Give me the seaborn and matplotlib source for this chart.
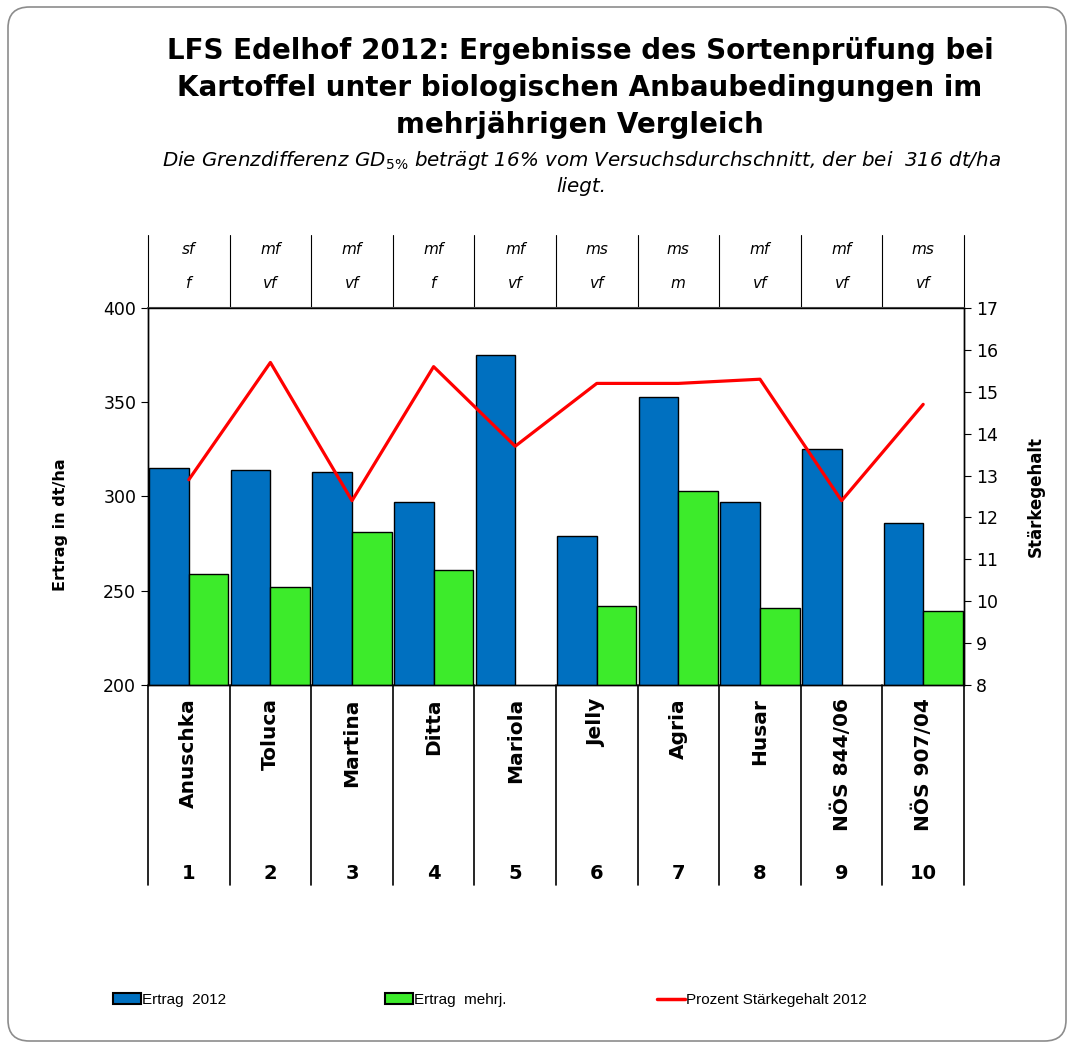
import numpy as np
import pandas as pd
import seaborn as sns
import matplotlib.pyplot as plt
from matplotlib.patches import Patch, FancyBboxPatch
from matplotlib.lines import Line2D

# data
sorten = ['Anuschka', 'Toluca', 'Martina', 'Ditta', 'Mariola',
          'Jelly', 'Agria', 'Husar', 'NÖS 844/06', 'NÖS 907/04']
nummern = ['1', '2', '3', '4', '5', '6', '7', '8', '9', '10']
reife = ['sf', 'mf', 'mf', 'mf', 'mf', 'ms', 'ms', 'mf', 'mf', 'ms']
kocht = ['f', 'vf', 'vf', 'f', 'vf', 'vf', 'm', 'vf', 'vf', 'vf']
ertrag_2012 = [315, 314, 313, 297, 375, 279, 353, 297, 325, 286]
ertrag_mehrj = [259, 252, 281, 261, np.nan, 242, 303, 241, np.nan, 239]
staerke_2012 = [12.9, 15.7, 12.4, 15.6, 13.7, 15.2, 15.2, 15.3, 12.4, 14.7]

serien = ['Ertrag  2012', 'Ertrag  mehrj.']
farben = ['#0070C0', '#3DEB2B']
rot = '#FF0000'

df = pd.DataFrame({
    'Sorte': sorten * 2,
    'Serie': [serien[0]] * len(sorten) + [serien[1]] * len(sorten),
    'Ertrag': ertrag_2012 + ertrag_mehrj,
})

sns.set_style('white')
plt.rcParams['font.family'] = ['DejaVu Sans']
plt.rcParams.update({'text.color': 'black', 'axes.labelcolor': 'black',
                     'xtick.color': 'black', 'ytick.color': 'black'})

fig = plt.figure(figsize=(10.74, 10.47), dpi=100)
ax = fig.add_axes([148 / 1074, 1 - 685 / 1047, 816 / 1074, 377 / 1047])

sns.barplot(data=df, x='Sorte', y='Ertrag', hue='Serie', order=sorten,
            hue_order=serien, palette=farben, saturation=1, width=0.97,
            edgecolor='black', linewidth=1, legend=False, ax=ax)
ax.set_ylim(200, 400)
ax.set_yticks([200, 250, 300, 350, 400])
ax.set_xlim(-0.5, len(sorten) - 0.5)
ax.set_xticks([])
ax.set_xlabel('')
ax.set_ylabel('Ertrag in dt/ha', fontsize=11.5, fontweight='bold')
ax.yaxis.set_label_coords(-0.098, 0.424)
ax.tick_params(axis='y', labelsize=12.5, direction='out', length=5, left=True)

ax2 = ax.twinx()
sns.lineplot(x=np.arange(len(sorten)), y=staerke_2012, color=rot, linewidth=2.3, ax=ax2)
ax2.set_ylim(8, 17)
ax2.set_yticks(range(8, 18))
ax2.set_ylabel('Stärkegehalt', fontsize=12, fontweight='bold')
ax2.yaxis.set_label_coords(1.077, 0.5)
ax2.tick_params(axis='y', labelsize=12.5, direction='out', length=5, right=True)

for a in (ax, ax2):
    for s in a.spines.values():
        s.set_color('black')
        s.set_linewidth(1)
ax.spines['top'].set_color('#555555')
ax.spines['top'].set_linewidth(1.5)

# header rows above and name/number table below
trans = ax.get_xaxis_transform()
for b in np.arange(len(sorten) + 1) - 0.5:
    ax.plot([b, b], [1.0, 1.194], transform=trans, color='black', lw=0.8, clip_on=False)
    ax.plot([b, b], [0.0, -0.53], transform=trans, color='black', lw=1.2, clip_on=False)

for i in range(len(sorten)):
    ax.text(i, 1.154, reife[i], transform=trans, ha='center', va='center',
            fontsize=11, style='italic')
    ax.text(i, 1.066, kocht[i], transform=trans, ha='center', va='center',
            fontsize=11, style='italic')
    ax.text(i, -0.035, sorten[i], transform=trans, ha='center', va='top',
            rotation=90, fontsize=14.5, fontweight='bold')
    ax.text(i, -0.499, nummern[i], transform=trans, ha='center', va='center',
            fontsize=14, fontweight='bold')

# titles
fig.text(0.54, 1 - 37 / 1047,
         'LFS Edelhof 2012: Ergebnisse des Sortenprüfung bei\n'
         'Kartoffel unter biologischen Anbaubedingungen im\n'
         'mehrjährigen Vergleich',
         ha='center', va='top', fontsize=20, fontweight='bold', linespacing=1.4)
fig.text(0.541, 1 - 160 / 1047,
         r'Die Grenzdifferenz GD$_{\mathit{5\%}}$ beträgt 16% vom Versuchsdurchschnitt, der bei  316 dt/ha',
         ha='center', va='center', fontsize=14.3, style='italic')
fig.text(0.541, 1 - 186 / 1047, 'liegt.', ha='center', va='center',
         fontsize=14.3, style='italic')

# legend, three separate entries
handles = [Patch(facecolor=farben[0], edgecolor='black', linewidth=1.5),
           Patch(facecolor=farben[1], edgecolor='black', linewidth=1.5),
           Line2D([], [], color=rot, linewidth=2.5)]
labels = ['Ertrag  2012', 'Ertrag  mehrj.', 'Prozent Stärkegehalt 2012']
xs = [113, 385, 657]
for h, l, x in zip(handles, labels, xs):
    fig.legend([h], [l], loc='center left', bbox_to_anchor=(x / 1074, 1 - 1000 / 1047),
               frameon=False, handlelength=1.8, handleheight=0.7,
               handletextpad=0.1, borderpad=0, borderaxespad=0,
               prop={'family': ['Liberation Sans Narrow', 'Liberation Sans'], 'size': 11})

# rounded frame around the whole chart
fig.patches.append(FancyBboxPatch((8 / 1074, 6 / 1047), 1058 / 1074, 1034 / 1047,
                                  boxstyle='round,pad=0,rounding_size=0.02',
                                  transform=fig.transFigure, facecolor='none',
                                  edgecolor='#8c8c8c', linewidth=1.2))

fig.savefig('out.png', dpi=100)
